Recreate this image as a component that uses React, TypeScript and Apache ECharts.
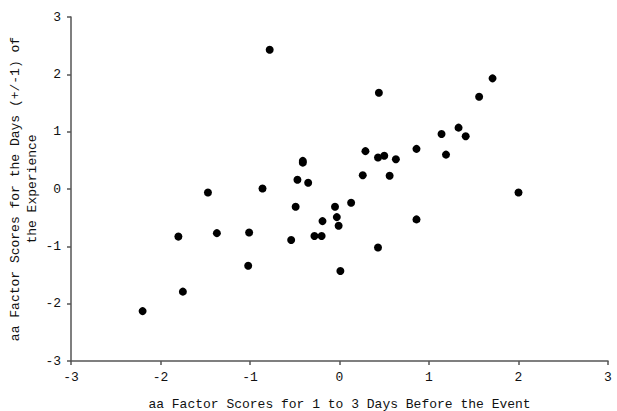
import React, { useEffect, useRef } from "react";
import * as echarts from "echarts";

const xValues = [-2.2, -1.8, -1.75, -1.47, -1.37, -1.01, -1.02, -0.86, -0.78, -0.54, -0.49, -0.47, -0.41, -0.41, -0.35, -0.28, -0.2, -0.19, -0.05, -0.03, -0.01, 0.01, 0.13, 0.26, 0.29, 0.43, 0.43, 0.44, 0.5, 0.56, 0.63, 0.86, 0.86, 1.14, 1.19, 1.33, 1.41, 1.56, 1.71, 2.0];
const yValues = [-2.13, -0.83, -1.79, -0.06, -0.77, -0.76, -1.34, 0.01, 2.43, -0.89, -0.31, 0.16, 0.49, 0.46, 0.11, -0.82, -0.82, -0.56, -0.31, -0.49, -0.64, -1.43, -0.24, 0.24, 0.66, 0.55, -1.02, 1.68, 0.58, 0.23, 0.52, 0.7, -0.53, 0.96, 0.6, 1.07, 0.92, 1.61, 1.93, -0.06];
const xTitle = "aa Factor Scores for 1 to 3 Days Before the Event";
const yTitle = "aa Factor Scores for the Days (+/-1) of\nthe Experience";
const axisMin = -3;
const axisMax = 3;
const axisStep = 1;

const FONT = "'Liberation Mono', 'Courier New', monospace";

export default function App() {
  const ref = useRef<HTMLDivElement>(null);
  useEffect(() => {
    if (!ref.current) return;
    const chart = echarts.init(ref.current, null, { renderer: "svg" });
    const axisCommon = {
      type: "value",
      min: axisMin,
      max: axisMax,
      interval: axisStep,
      splitLine: { show: false },
      axisLine: { show: true, onZero: false, lineStyle: { color: "#555", width: 1.5 } },
      axisTick: { show: true, inside: false, length: 4, lineStyle: { color: "#555", width: 1.5 } },
      axisLabel: { color: "#111", fontFamily: FONT, fontSize: 13 },
      nameLocation: "middle",
      nameMoveOverlap: false,
      nameTextStyle: { color: "#111", fontFamily: FONT, fontSize: 13 },
    };
    chart.setOption({
      animation: false,
      backgroundColor: "#fff",
      grid: { left: 71, right: 9, top: 17, bottom: 50, containLabel: false, outerBoundsMode: "none" },
      xAxis: {
        ...axisCommon,
        name: xTitle,
        nameGap: 37,
        axisLabel: { ...axisCommon.axisLabel, margin: 10 },
      },
      yAxis: {
        ...axisCommon,
        name: yTitle,
        nameGap: 30,
        nameTextStyle: { ...axisCommon.nameTextStyle, lineHeight: 17 },
        axisLabel: { ...axisCommon.axisLabel, margin: 10 },
      },
      series: [
        {
          type: "scatter",
          symbol: "circle",
          symbolSize: 8,
          itemStyle: { color: "#000", opacity: 1 },
          data: xValues.map((x, i) => [x, yValues[i]]),
        },
      ],
    });
    return () => chart.dispose();
  }, []);
  return (
    <div
      ref={ref}
      style={{ position: "fixed", left: 0, top: 0, width: 617, height: 411, background: "#fff" }}
    />
  );
}
